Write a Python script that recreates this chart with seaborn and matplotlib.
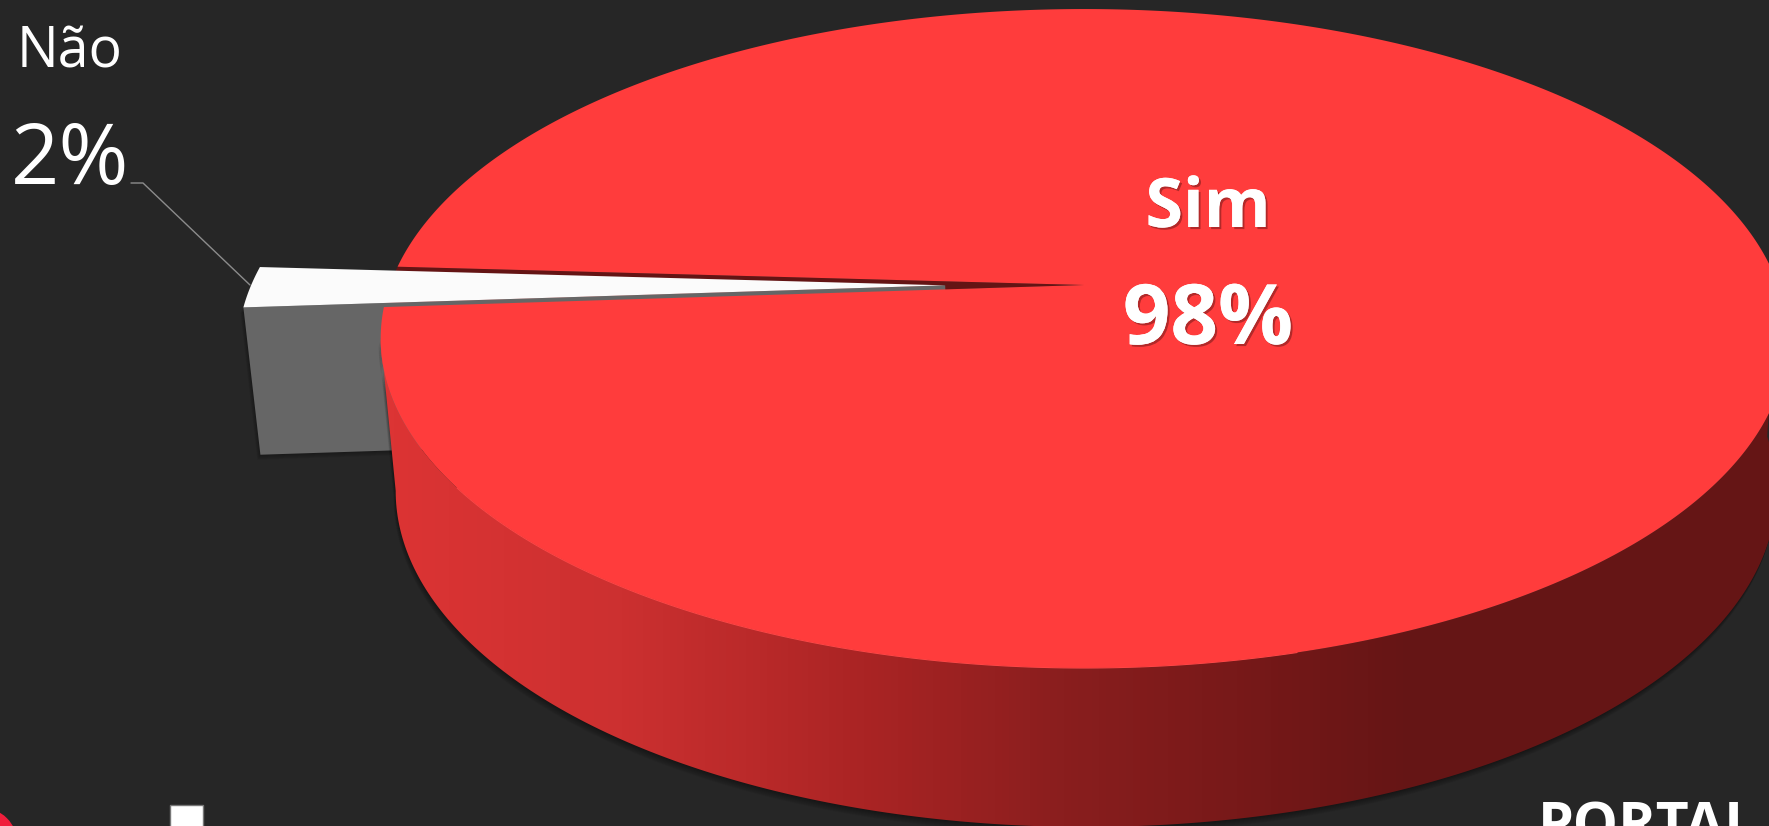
import numpy as np
import seaborn as sns
import matplotlib
matplotlib.use('Agg')
import matplotlib.pyplot as plt
import matplotlib.patheffects as pe
from matplotlib.colors import LinearSegmentedColormap
from matplotlib.patches import Circle, Polygon, Rectangle, Wedge
from matplotlib.path import Path
from matplotlib.transforms import Transform

# Dados
labels = ['Sim', 'Não']
values = [98, 2]
value_labels = ['98%', '2%']

W, H = 1769, 826
BG = '#262626'
RED = '#FF3C3C'
DARK_RED = '#641414'
WHITE = '#FBFBFB'
GREY = '#666666'

# posicao/perspectiva do disco, em pixels
CX, CY = 1084, 285
RX, RY, PERSP = 694, -274.5, 0.1624
EXPLODE = 0.20
START_ANGLE = 183.9


class DiscProjection(Transform):
    """Leva o plano do pie (raio 1) para a tela, com perspectiva e profundidade."""
    input_dims = output_dims = 2

    def __init__(self, drop=0.0):
        super().__init__()
        self.drop = drop

    def transform_non_affine(self, values):
        u, v = np.asarray(values, dtype=float).T
        w = 1 + PERSP * v
        x = CX + RX * u / w
        y = (CY + RY * v) / w
        x = x + self.drop * (2 - 0.0185 * (x - 1084))
        y = y + self.drop * (152.5 + 0.0197 * (y - 338.5))
        return np.column_stack([x, y])

    def transform_path_non_affine(self, path):
        # amostra as curvas antes de projetar, senao o arco sai da elipse
        t = np.linspace(0, 1, 40)
        pts = np.vstack([seg(t) for seg, code in path.iter_bezier()])
        return Path(self.transform_non_affine(pts))


def polar(center, theta):
    t = np.radians(theta)
    return np.column_stack([center[0] + np.cos(t), center[1] + np.sin(t)])


sns.set_theme(style='dark', rc={'figure.facecolor': BG, 'axes.facecolor': BG})
plt.rcParams['font.family'] = ['Open Sans', 'DejaVu Sans']

fig = plt.figure(figsize=(W / 100, H / 100), dpi=100)
ax = fig.add_axes([0, 0, 1, 1])

# fatias calculadas pelo proprio pie
wedges, _ = ax.pie(values, explode=[0, EXPLODE], startangle=START_ANGLE,
                   colors=[RED, WHITE], radius=1, wedgeprops={'linewidth': 0})
ax.set_aspect('auto')
ax.set_xlim(0, W)
ax.set_ylim(H, 0)
ax.axis('off')

top = DiscProjection(0)
bottom = DiscProjection(1)
slice_bottom = DiscProjection(0.97)
to_screen = top + ax.transData

sim, nao = wedges
sim.set_transform(to_screen)
sim.set_zorder(6)
nao.set_transform(to_screen)
nao.set_zorder(3)

# corte escuro no lugar da fatia puxada
cut = Wedge((0, 0), 1, sim.theta2, sim.theta1 + 360, facecolor=DARK_RED, edgecolor='none',
            linewidth=0, transform=to_screen, zorder=1)
ax.add_patch(cut)

# lateral cinza da fatia puxada
rim = polar(nao.center, nao.theta2)
apex = np.array([nao.center])
grey_pts = np.vstack([top.transform(rim), slice_bottom.transform(rim),
                      slice_bottom.transform(apex), top.transform(apex)])
ax.add_patch(Polygon(grey_pts, closed=True, facecolor=GREY, edgecolor='none', zorder=2))
for i in range(1, 6):
    ax.add_patch(Polygon(grey_pts + [-i * 0.6, i], closed=True, facecolor='black', alpha=0.06,
                         edgecolor='none', zorder=0.5))

# lateral vermelha com degrade
theta = np.linspace(189.3, 360, 240)
arc = polar((0, 0), theta)
side_pts = np.vstack([top.transform(arc), bottom.transform(arc)[::-1]])
side = Polygon(side_pts, closed=True, facecolor='none', edgecolor='none',
               transform=ax.transData, zorder=4)
ax.add_patch(side)

stops = [0.0, 0.22, 0.35, 0.49, 0.60, 0.72, 0.80, 1.0]
stop_colors = ['#DC3434', '#DC3434', '#CC3030', '#AA2424', '#8A1E1E', '#741818', '#651515', '#651515']
side_cmap = LinearSegmentedColormap.from_list('side', list(zip(stops, stop_colors)))
img = ax.imshow(np.linspace(0, 1, 512).reshape(1, -1), cmap=side_cmap, aspect='auto',
                extent=(0, W, H, 0), zorder=4)
img.set_clip_path(side)
ax.set_xlim(0, W)
ax.set_ylim(H, 0)

# sombra embaixo do disco
for i in range(1, 8):
    ax.add_patch(Polygon(side_pts + [-i * 0.3, i], closed=True, facecolor='black', alpha=0.06,
                         edgecolor='none', zorder=3.5))

# filete claro na borda da frente
front = top.transform(polar((0, 0), np.linspace(215, 285, 120)))
ax.plot(front[:, 0], front[:, 1], color='#FF4C4C', lw=0.8, zorder=5)

# textos
shadow = [pe.withSimplePatchShadow(offset=(1.5, -1.5), shadow_rgbFace='black', alpha=0.3), pe.Normal()]
ax.text(1208, 227, labels[0], color='white', fontsize=49, fontweight='bold', ha='center',
        va='baseline', path_effects=shadow, zorder=8)
ax.text(1208, 344, value_labels[0], color='white', fontsize=60, fontweight='bold', ha='center',
        va='baseline', path_effects=shadow, zorder=8)
ax.text(17, 67, labels[1], color='white', fontsize=40, ha='left', va='baseline', zorder=8)
ax.text(11, 184, value_labels[1], color='white', fontsize=61, ha='left', va='baseline', zorder=8)
ax.plot([131, 143, 250], [183, 183, 285], color='#8C8C8C', lw=1, zorder=2)

# logos cortados no rodape
ax.add_patch(Circle((-20, 845), 38, facecolor='#F01E3C', edgecolor='none', zorder=8))
ax.add_patch(Rectangle((170, 805), 33, 30, facecolor='white', edgecolor='#777777', lw=1, zorder=8))
ax.text(1538, 844, 'PORTAL', color='white', fontsize=41, fontweight='bold', ha='left',
        va='baseline', zorder=8)

fig.savefig('out.png', dpi=100, facecolor=BG)
